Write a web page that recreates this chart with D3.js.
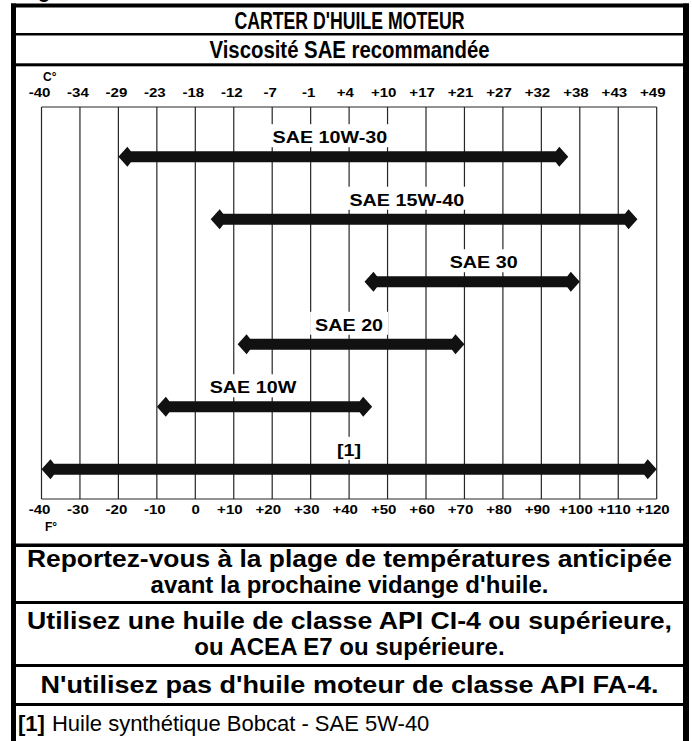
<!DOCTYPE html>
<html>
<head>
<meta charset="utf-8">
<script src="https://cdn.jsdelivr.net/npm/d3@7/dist/d3.min.js"></script>
<style>
  html, body { margin: 0; padding: 0; background: #fff; }
  svg { display: block; }
  text { font-family: Arial, "Liberation Sans", Helvetica, sans-serif; }
</style>
</head>
<body>
<svg id="chart" width="692" height="741"></svg>
<script>
// Grid positions in °F (bottom scale) and the Celsius equivalents printed on top
const fTicks  = [-40, -30, -20, -10, 0, 10, 20, 30, 40, 50, 60, 70, 80, 90, 100, 110, 120];
const fLabels = ["-40", "-30", "-20", "-10", "0", "+10", "+20", "+30", "+40", "+50",
                 "+60", "+70", "+80", "+90", "+100", "+110", "+120"];
const cLabels = ["-40", "-34", "-29", "-23", "-18", "-12", "-7", "-1", "+4", "+10",
                 "+17", "+21", "+27", "+32", "+38", "+43", "+49"];

// Oil grades and their recommended ambient range (°F)
const grades    = ["SAE 10W-30", "SAE 15W-40", "SAE 30", "SAE 20", "SAE 10W", "[1]"];
const rangeLow  = [-20, 4, 44, 11, -10, -40];
const rangeHigh = [97, 115, 100, 70, 46, 120];
// where each grade name sits along the scale (°F)
const labelAt   = [35, 55, 75, 40, 15, 40];

// Header and footer texts
const title    = "CARTER D'HUILE MOTEUR";
const subtitle = "Viscosité SAE recommandée";
const noteBlocks = [
  ["Reportez-vous à la plage de températures anticipée", "avant la prochaine vidange d'huile."],
  ["Utilisez une huile de classe API CI-4 ou supérieure,", "ou ACEA E7 ou supérieure."],
  ["N'utilisez pas d'huile moteur de classe API FA-4."]
];
const footRef  = "[1]";
const footText = "Huile synthétique Bobcat - SAE 5W-40";

// ---------------------------------------------------------------
const svg = d3.select("#chart");
const frameL = 11, frameR = 689, frameT = 3.5;
const midX = (16 + 683) / 2;

const x = d3.scaleLinear().domain([-40, 120]).range([41.5, 656.7]);
const gridTop = 107, gridBottom = 499;
const y = d3.scalePoint().domain(grades).range([156.7, 469.3]);

// stray descender of the caption above the box
svg.append("text").attr("x", 38).attr("y", -2.5)
  .attr("font-size", 20).attr("font-weight", "bold").text("g");

// ---- outer frame and row separators
const ink = "#000";
svg.append("rect").attr("x", frameL).attr("y", frameT).attr("width", frameR - frameL).attr("height", 4).attr("fill", ink);
svg.append("rect").attr("x", frameL).attr("y", frameT).attr("width", 5).attr("height", 741).attr("fill", ink);
svg.append("rect").attr("x", 683).attr("y", frameT).attr("width", 6).attr("height", 741).attr("fill", ink);
const separators = [[33, 2.5], [63.3, 3], [543.5, 3.5], [601, 3], [664, 3], [703, 3]];
svg.append("g").selectAll("rect").data(separators).join("rect")
  .attr("x", frameL).attr("width", frameR - frameL)
  .attr("y", d => d[0]).attr("height", d => d[1]).attr("fill", ink);

// ---- header
svg.append("text").attr("x", midX).attr("y", 28.5)
  .attr("text-anchor", "middle").attr("font-size", 23).attr("font-weight", "bold")
  .attr("textLength", 230).attr("lengthAdjust", "spacingAndGlyphs")
  .text(title);
svg.append("text").attr("x", midX).attr("y", 57.5)
  .attr("text-anchor", "middle").attr("font-size", 23).attr("font-weight", "bold")
  .attr("textLength", 280).attr("lengthAdjust", "spacingAndGlyphs")
  .text(subtitle);

// ---- grid
const gridInk = "#262626";
svg.append("g").selectAll("line").data(fTicks).join("line")
  .attr("x1", d => x(d)).attr("x2", d => x(d))
  .attr("y1", gridTop).attr("y2", gridBottom)
  .attr("stroke", gridInk).attr("stroke-width", 1.2);
svg.append("g").selectAll("line").data([gridTop, gridBottom]).join("line")
  .attr("x1", x(-40)).attr("x2", x(120))
  .attr("y1", d => d).attr("y2", d => d)
  .attr("stroke", gridInk).attr("stroke-width", 1.2);

// ---- tick labels: digits centred on the line, sign hanging to the left
const tickFont = 13.2, tickStretch = 1.14;
const signEm = { "-": 0.333, "+": 0.584 };
function styleTicks(g, labels) {
  g.select(".domain").remove();
  g.selectAll(".tick line").remove();
  g.selectAll(".tick text")
    .attr("fill", "#000")
    .attr("font-size", tickFont)
    .attr("font-weight", "bold")
    .attr("font-family", 'Arial, "Liberation Sans", sans-serif')
    .attr("text-anchor", "middle")
    .attr("y", 0).attr("dy", 0)
    .attr("x", (d, i) => -(signEm[labels[i][0]] || 0) * tickFont / 2)
    .attr("transform", `scale(${tickStretch},1)`);
}
svg.append("g").attr("transform", "translate(0,96.8)")
  .call(d3.axisTop(x).tickValues(fTicks).tickSize(0).tickPadding(0)
    .tickFormat((d, i) => cLabels[i]))
  .call(g => styleTicks(g, cLabels));
svg.append("g").attr("transform", "translate(0,514)")
  .call(d3.axisBottom(x).tickValues(fTicks).tickSize(0).tickPadding(0)
    .tickFormat((d, i) => fLabels[i]))
  .call(g => styleTicks(g, fLabels));

svg.append("text").attr("x", 43).attr("y", 80.5).attr("font-size", 12).attr("font-weight", "bold").text("C°");
svg.append("text").attr("x", 45).attr("y", 530.8).attr("font-size", 12).attr("font-weight", "bold").text("F°");

// ---- range arrows
const headLen = 12.5, barbBack = 9, headHalf = 10, shaftHalf = 5.5;
function arrowPoints(a, b, cy) {
  return [
    [a, cy], [a + barbBack, cy - headHalf], [a + headLen, cy - shaftHalf],
    [b - headLen, cy - shaftHalf], [b - barbBack, cy - headHalf], [b, cy],
    [b - barbBack, cy + headHalf], [b - headLen, cy + shaftHalf],
    [a + headLen, cy + shaftHalf], [a + barbBack, cy + headHalf]
  ];
}
const rows = grades.map((g, i) => ({ name: g, lo: rangeLow[i], hi: rangeHigh[i], at: labelAt[i] }));
const line = d3.line().curve(d3.curveLinearClosed);

const labelFont = 17, labelStretch = 1.16, labelLift = 19.5;
const labelLayer = svg.append("g");
const labels = labelLayer.selectAll("g").data(rows).join("g")
  .attr("transform", d => `translate(${x(d.at)},${y(d.name) - labelLift})`);
// white backing clears the grid behind each grade name
labels.append("rect").attr("fill", "#fff");
const names = labels.append("text")
  .attr("text-anchor", "middle").attr("font-size", labelFont).attr("font-weight", "bold")
  .attr("y", labelFont * 0.716 / 2)
  .attr("transform", `scale(${labelStretch},1)`)
  .text(d => d.name);
names.each(function () {
  const w = this.getComputedTextLength() * labelStretch + 10;
  d3.select(this.parentNode).select("rect")
    .attr("x", -w / 2).attr("width", w).attr("y", -13).attr("height", 23);
});

svg.append("g").selectAll("path").data(rows).join("path")
  .attr("d", d => line(arrowPoints(x(d.lo), x(d.hi), y(d.name))))
  .attr("fill", "#111");

labelLayer.raise();

// ---- notes under the chart; the long lines are spread to the frame width
const noteFont = 24;
const noteBaselines = [[566.5, 592.5], [628.5, 654.5], [692.5]];
const noteWidths = [[645, null], [645, null], [618]];
noteBlocks.forEach((block, bi) => {
  block.forEach((t, li) => {
    const el = svg.append("text")
      .attr("x", midX).attr("y", noteBaselines[bi][li])
      .attr("text-anchor", "middle").attr("font-size", noteFont).attr("font-weight", "bold")
      .text(t);
    if (noteWidths[bi][li]) {
      el.attr("textLength", noteWidths[bi][li]).attr("lengthAdjust", "spacingAndGlyphs");
    }
  });
});
const foot = svg.append("text").attr("x", 18).attr("y", 730.5).attr("font-size", 22);
foot.append("tspan").attr("font-weight", "bold").text(footRef);
foot.append("tspan").attr("dx", 7).text(footText);
</script>
</body>
</html>
